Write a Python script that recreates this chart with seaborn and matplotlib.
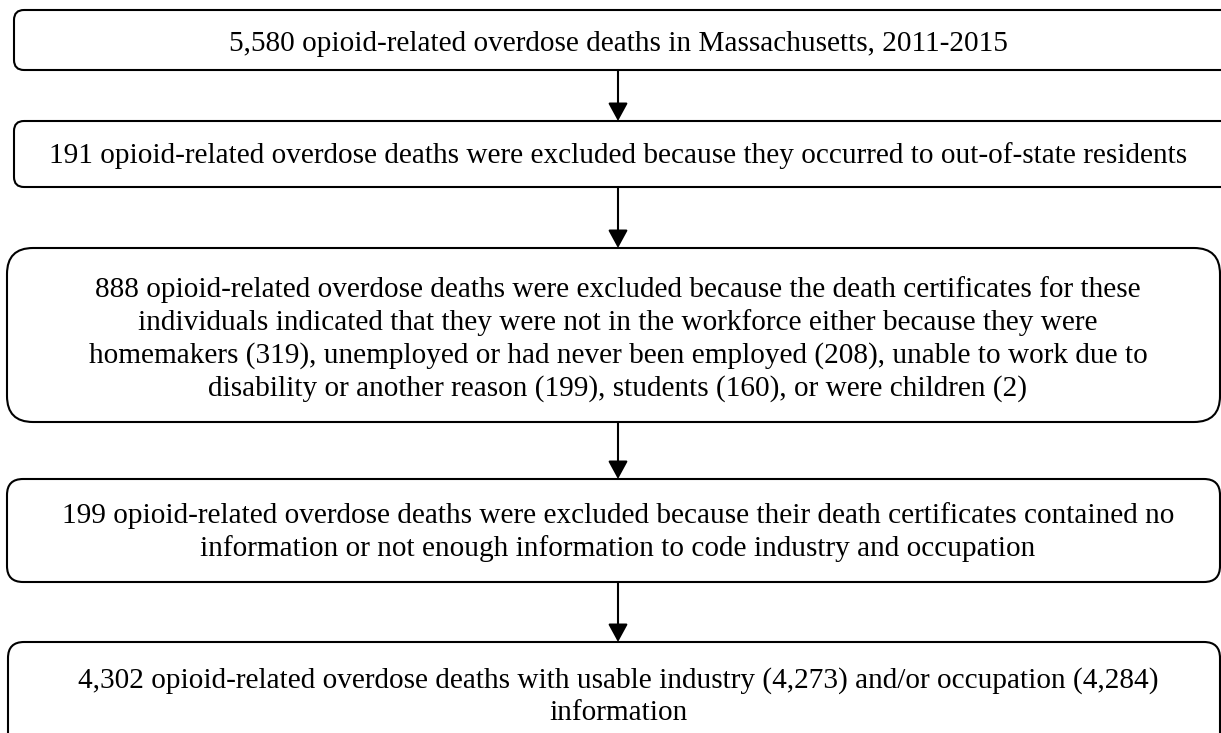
import matplotlib
matplotlib.use("Agg")
import matplotlib.pyplot as plt
import seaborn as sns
from matplotlib.patches import FancyBboxPatch

# Flowchart text, one entry per box
box_texts = [
    "5,580 opioid-related overdose deaths in Massachusetts, 2011-2015",
    "191 opioid-related overdose deaths were excluded because they occurred to out-of-state residents",
    "888 opioid-related overdose deaths were excluded because the death certificates for these\n"
    "individuals indicated that they were not in the workforce either because they were\n"
    "homemakers (319), unemployed or had never been employed (208), unable to work due to\n"
    "disability or another reason (199), students (160), or were children (2)",
    "199 opioid-related overdose deaths were excluded because their death certificates contained no\n"
    "information or not enough information to code industry and occupation",
    "4,302 opioid-related overdose deaths with usable industry (4,273) and/or occupation (4,284)\n"
    "information",
]

# layout in pixel units (left, top, right, bottom, corner radius, text centre y)
box_left = [14, 14, 7, 7, 8]
box_right = [1240, 1240, 1220, 1220, 1220]
box_top = [10, 121, 248, 479, 642]
box_bottom = [70, 187, 422, 582, 760]
box_radius = [10, 10, 26, 16, 16]
text_y = [44, 156, 339, 532, 697]
arrow_x = 618

sns.set_theme(style="white")
plt.rcParams["font.family"] = ["Liberation Serif", "DejaVu Serif"]

fig = plt.figure(figsize=(12.21, 7.33), dpi=100)
ax = fig.add_axes([0, 0, 1, 1])
ax.set_xlim(0, 1221)
ax.set_ylim(733, 0)
ax.axis("off")

for i, txt in enumerate(box_texts):
    w = box_right[i] - box_left[i]
    h = box_bottom[i] - box_top[i]
    r = box_radius[i]
    patch = FancyBboxPatch(
        (box_left[i], box_top[i]), w, h,
        boxstyle=f"round,pad=0,rounding_size={r}",
        facecolor="white", edgecolor="black", linewidth=1.5,
    )
    ax.add_patch(patch)
    ax.text(arrow_x, text_y[i], txt, ha="center", va="center",
            fontsize=21.1, color="black", linespacing=1.3)

# arrows between consecutive boxes
for i in range(len(box_texts) - 1):
    ax.annotate(
        "", xy=(arrow_x, box_top[i + 1]), xytext=(arrow_x, box_bottom[i]),
        arrowprops=dict(arrowstyle="-|>,head_length=0.55,head_width=0.3",
                        mutation_scale=20, color="black", lw=1.5,
                        shrinkA=0, shrinkB=0),
    )

fig.savefig("out.png", dpi=100, facecolor="white")
